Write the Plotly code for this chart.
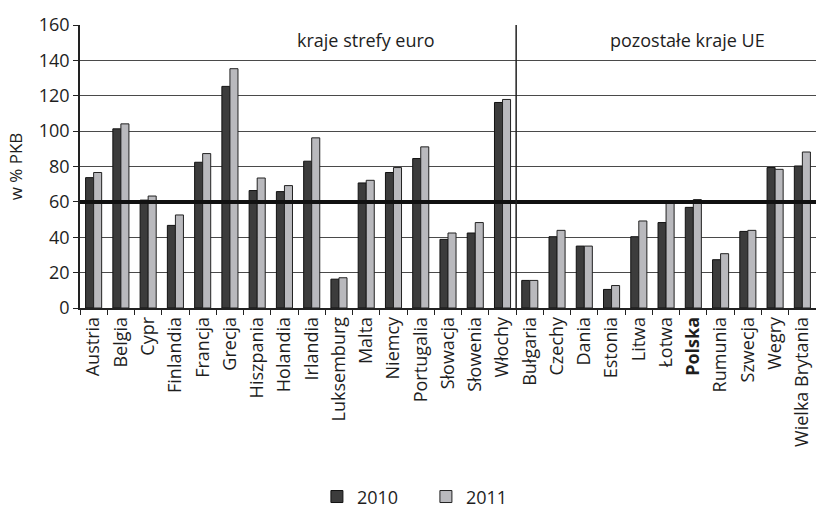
import plotly.graph_objects as go

# Public debt, % of GDP
countries = ["Austria", "Belgia", "Cypr", "Finlandia", "Francja", "Grecja", "Hiszpania",
             "Holandia", "Irlandia", "Luksemburg", "Malta", "Niemcy", "Portugalia",
             "Słowacja", "Słowenia", "Włochy",
             "Bułgaria", "Czechy", "Dania", "Estonia", "Litwa", "Łotwa", "<b>Polska</b>",
             "Rumunia", "Szwecja", "Wegry", "Wielka Brytania"]
debt_2010 = [73.7, 101.3, 61.0, 46.7, 82.4, 125.3, 66.4, 65.8, 83.0, 16.3, 70.7, 76.6,
             84.5, 38.8, 42.4, 116.2,
             15.6, 40.3, 35.0, 10.5, 40.3, 48.3, 56.9, 27.3, 43.3, 79.4, 80.3]
debt_2011 = [76.6, 104.1, 63.3, 52.6, 87.3, 135.3, 73.5, 69.2, 96.2, 17.1, 72.2, 79.4,
             91.1, 42.4, 48.3, 117.9,
             15.6, 43.9, 35.0, 12.7, 49.2, 59.9, 61.3, 30.7, 43.9, 78.4, 88.2]
years = ["2010", "2011"]
y_ticks = [0, 20, 40, 60, 80, 100, 120, 140, 160]
limit = 60
groups = ["kraje strefy euro", "pozostałe kraje UE"]
n_euro = 16

FONT = "Open Sans"
INK = "#1e1e1e"

fig = go.Figure()
fig.add_trace(go.Bar(x=countries, y=debt_2010, name=years[0],
                     marker=dict(color="#3c3c3c", line=dict(color="#111111", width=1))))
fig.add_trace(go.Bar(x=countries, y=debt_2011, name=years[1],
                     marker=dict(color="#b9b9bd", line=dict(color="#222222", width=1))))

# reference level 60% of GDP
fig.add_shape(type="line", xref="paper", x0=0, x1=1, yref="y", y0=limit, y1=limit,
              line=dict(color="#111111", width=4), layer="above")
# divider between euro-area and other EU countries
fig.add_shape(type="line", xref="x", x0=n_euro - 0.5, x1=n_euro - 0.5,
              yref="y", y0=0, y1=160, line=dict(color="#222222", width=1.5), layer="above")

fig.add_annotation(x=10.0, y=151.5, xref="x", yref="y", text=groups[0], showarrow=False,
                   font=dict(family=FONT, size=18, color=INK))
fig.add_annotation(x=21.8, y=151.5, xref="x", yref="y", text=groups[1], showarrow=False,
                   font=dict(family=FONT, size=18, color=INK))

fig.update_layout(
    width=816, height=508,
    margin=dict(l=80, r=0, t=25, b=200, autoexpand=False),
    paper_bgcolor="white", plot_bgcolor="white",
    barmode="group", bargap=0.41, bargroupgap=0,
    font=dict(family=FONT, size=18, color=INK),
    showlegend=True,
    legend=dict(orientation="h", x=0.47, xanchor="center",
                yref="container", y=0.022, yanchor="middle",
                font=dict(family=FONT, size=18, color=INK),
                entrywidth=64, entrywidthmode="pixels", itemwidth=30),
    xaxis=dict(type="category", tickangle=-90, tickson="boundaries",
               ticks="outside", ticklen=5, tickcolor="#222222", automargin=False,
               showline=True, linecolor="#222222", linewidth=1.5,
               showgrid=False, tickfont=dict(family=FONT, size=18, color=INK),
               range=[-0.5, len(countries) - 0.5]),
    yaxis=dict(range=[0, 160], tickvals=y_ticks, ticks="outside", ticklen=5,
               tickcolor="#222222", showline=True, linecolor="#222222", linewidth=1.5,
               showgrid=True, gridcolor="#4a4a4a", gridwidth=1, automargin=False,
               zeroline=False, tickfont=dict(family=FONT, size=18, color=INK),
               title=dict(text="w % PKB", font=dict(family=FONT, size=17, color=INK),
                          standoff=12)),
)

fig.write_html("out.html")
